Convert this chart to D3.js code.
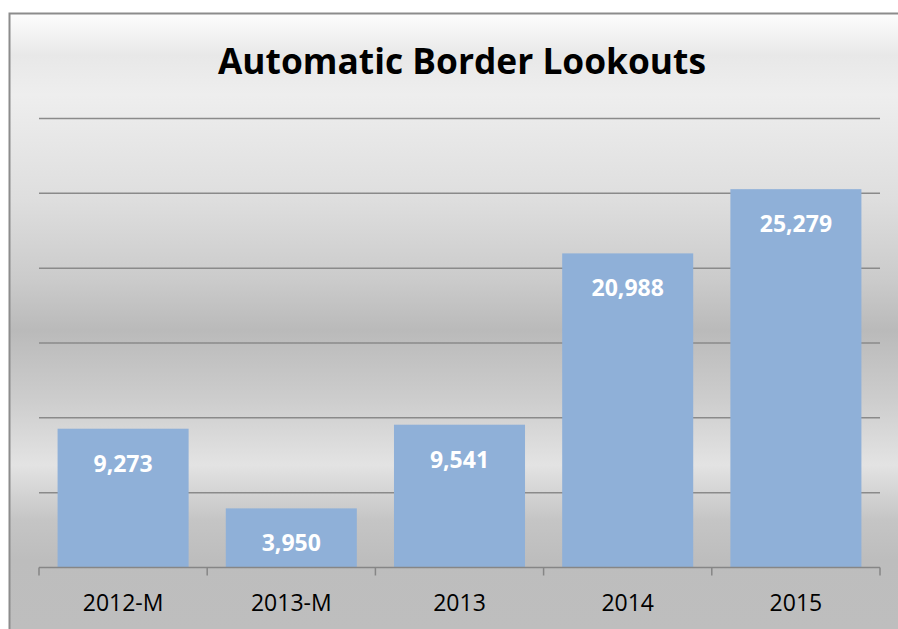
<!DOCTYPE html>
<html>
<head>
<meta charset="utf-8">
<script src="https://cdn.jsdelivr.net/npm/d3@7"></script>
<style>
  body { margin: 0; background: #fff; }
  svg { display: block; }
</style>
</head>
<body>
<div id="chart"></div>
<script>
// chart data
const categories = ["2012-M", "2013-M", "2013", "2014", "2015"];
const lookouts = [9273, 3950, 9541, 20988, 25279];
const gridTicks = [5000, 10000, 15000, 20000, 25000, 30000];
const chartTitle = "Automatic Border Lookouts";

const width = 898, height = 629;
const margin = {left: 39, right: 18, top: 118.5, bottom: 61};

var svg = d3.select("#chart")
  .append("svg")
  .attr("width", width)
  .attr("height", height);

// background gradient (excel style)
var defs = svg.append("defs");
var grad = defs.append("linearGradient")
  .attr("id", "bg")
  .attr("gradientUnits", "userSpaceOnUse")
  .attr("x1", 0).attr("y1", 13).attr("x2", 0).attr("y2", 629);
[[13, "#fdfdfd"], [55, "#e8e8e8"], [95, "#eeeeee"], [200, "#dedede"], [280, "#cbcbcb"],
 [330, "#bababa"], [400, "#cdcdcd"], [465, "#e3e3e3"], [520, "#c5c5c5"], [560, "#bdbdbd"], [629, "#bebebe"]]
  .forEach(s => grad.append("stop")
    .attr("offset", ((s[0] - 13) / (629 - 13)))
    .attr("stop-color", s[1]));

svg.append("rect")
  .attr("x", 9.5).attr("y", 13.5)
  .attr("width", 920).attr("height", 640)
  .attr("fill", "url(#bg)")
  .attr("stroke", "#8c8c8c")
  .attr("stroke-width", 2);

var x = d3.scaleBand()
  .domain(categories)
  .range([margin.left, width - margin.right])
  .paddingInner(0.221)
  .paddingOuter(0.1105);

var y = d3.scaleLinear()
  .domain([0, 30000])
  .range([height - margin.bottom - 0.5, margin.top]);

// gridlines
svg.append("g")
  .selectAll("line")
  .data(gridTicks)
  .enter().append("line")
  .attr("x1", margin.left)
  .attr("x2", width - margin.right)
  .attr("y1", d => y(d))
  .attr("y2", d => y(d))
  .attr("stroke", "#8a8a8a")
  .attr("stroke-width", 1.5);

// bars
svg.selectAll(".bar")
  .data(lookouts)
  .enter().append("rect")
  .attr("class", "bar")
  .attr("x", (d, i) => x(categories[i]))
  .attr("width", x.bandwidth())
  .attr("y", d => y(d))
  .attr("height", d => y(0) - y(d))
  .attr("fill", "#8fb0d8");

// value labels
svg.selectAll(".val")
  .data(lookouts)
  .enter().append("text")
  .attr("class", "val")
  .attr("x", (d, i) => x(categories[i]) + x.bandwidth() / 2)
  .attr("y", d => y(d) + 43)
  .attr("text-anchor", "middle")
  .attr("font-family", "'Open Sans', sans-serif")
  .attr("font-weight", "bold")
  .attr("font-size", 23)
  .attr("fill", "#fff")
  .text(d => d3.format(",")(d));

// x axis
var xAxis = svg.append("g")
  .attr("transform", `translate(0,${y(0)})`)
  .call(d3.axisBottom(x).tickSize(0).tickPadding(0));
xAxis.select(".domain").remove();
xAxis.selectAll(".tick text")
  .attr("y", 43)
  .attr("dy", 0)
  .attr("font-family", "'Open Sans', sans-serif")
  .attr("font-size", 23)
  .attr("fill", "#000");

var edges = d3.range(categories.length + 1).map(i => margin.left + i * x.step());
svg.append("line")
  .attr("x1", margin.left).attr("x2", width - margin.right)
  .attr("y1", y(0)).attr("y2", y(0))
  .attr("stroke", "#868686").attr("stroke-width", 1.5);
svg.append("g")
  .selectAll("line")
  .data(edges)
  .enter().append("line")
  .attr("x1", d => d).attr("x2", d => d)
  .attr("y1", y(0)).attr("y2", y(0) + 8)
  .attr("stroke", "#868686").attr("stroke-width", 1.5);

// title
svg.append("text")
  .attr("x", 462)
  .attr("y", 73.5)
  .attr("text-anchor", "middle")
  .attr("font-family", "'Open Sans', sans-serif")
  .attr("font-weight", "bold")
  .attr("font-size", 36)
  .attr("textLength", 488)
  .attr("lengthAdjust", "spacingAndGlyphs")
  .attr("fill", "#000")
  .text(chartTitle);
</script>
</body>
</html>
